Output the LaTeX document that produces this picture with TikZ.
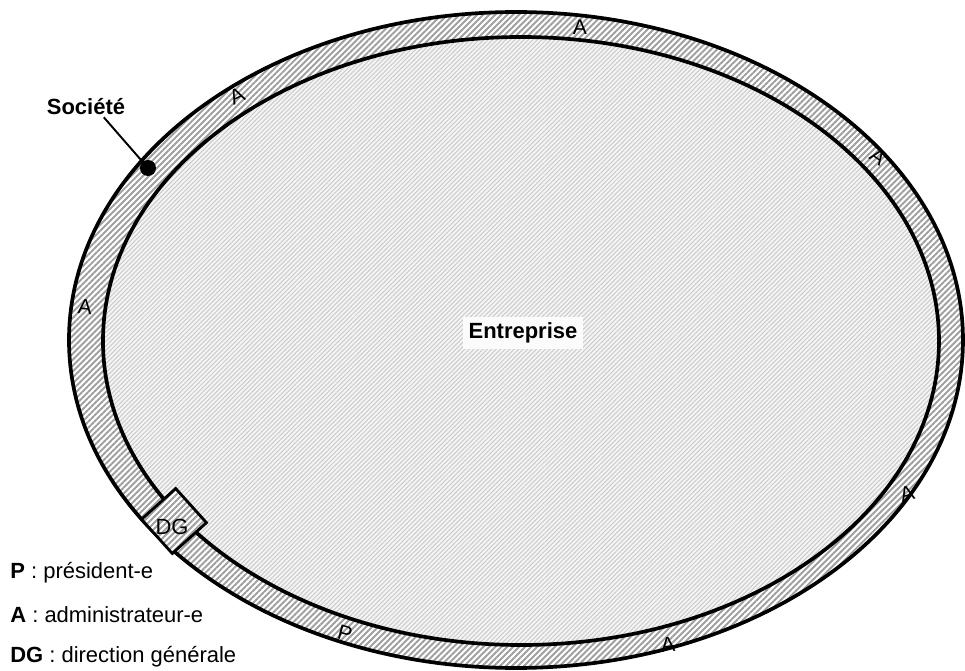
\documentclass[tikz,border=0pt]{standalone}
\usepackage{fontspec}
\setmainfont{Liberation Sans}
\usepackage{tikz}
\usetikzlibrary{patterns.meta}

\begin{document}
\begin{tikzpicture}[
  ring/.style={line width=2.1pt},
  band/.style={pattern={Lines[angle=45,distance=2.4pt,line width=1.1pt]},pattern color=gray!75},
  core/.style={pattern={Lines[angle=45,distance=1.8pt,line width=0.6pt]},pattern color=gray!40},
  lbl/.style={font=\fontsize{12}{14}\selectfont,inner sep=0pt},
  legend/.style={anchor=west,font=\fontsize{12.5}{15}\selectfont,inner sep=0pt}]
  \useasboundingbox (-10.32,-6.62) rectangle (8.98,6.8);
  % the ring (Société)
  \fill[white] (0,0) ellipse (8.94 and 6.56);
  \fill[band,even odd rule] (0,0) ellipse (8.94 and 6.56) (0.1,-0.02) ellipse (8.36 and 6.08);
  % the inside (Entreprise)
  \fill[gray!8] (0.1,-0.02) ellipse (8.36 and 6.08);
  \fill[core] (0.1,-0.02) ellipse (8.36 and 6.08);
  \draw[ring] (0,0) ellipse (8.94 and 6.56);
  \draw[ring] (0.1,-0.02) ellipse (8.36 and 6.08);
  \node[fill=gray!3,inner sep=3pt,font=\bfseries\fontsize{12.5}{15}\selectfont] (firm) at (0.14,0.14) {Entreprise};
  % administrateurs and président
  \foreach \p/\a [count=\i] in {{(1.28,6.26)}/0,{(-5.58,4.88)}/25,{(7.24,3.66)}/-35,{(-8.62,0.66)}/-5,{(7.82,-3.08)}/15,{(3.04,-6.1)}/5}
    \node[lbl,rotate=\a] (adm\i) at \p {A};
  \node[lbl,rotate=-15] (pres) at (-3.42,-5.86) {P};
  % direction générale
  \node[draw,line width=1.6pt,preaction={fill=white},band,minimum size=0.92cm,inner sep=0pt,rotate=42] (dgbox) at (-6.84,-3.62) {};
  \node[font=\fontsize{12.5}{15}\selectfont,inner sep=0pt] (dg) at (-6.88,-3.74) {DG};
  % Société
  \node[font=\bfseries\fontsize{12.5}{15}\selectfont,inner sep=1pt] (societe) at (-8.6,4.66) {Société};
  \node[circle,fill,inner sep=0pt,minimum size=0.32cm] (sdot) at (-7.36,3.44) {};
  \draw[line width=1.1pt] (societe.-30) -- (sdot.center);
  % legend
  \node[legend] (legP) at (-10.12,-4.66) {\textbf{P} : président-e};
  \node[legend] (legA) at (-10.12,-5.5) {\textbf{A} : administrateur-e};
  \node[legend] (legDG) at (-10.12,-6.34) {\textbf{DG} : direction générale};
\end{tikzpicture}
\end{document}
